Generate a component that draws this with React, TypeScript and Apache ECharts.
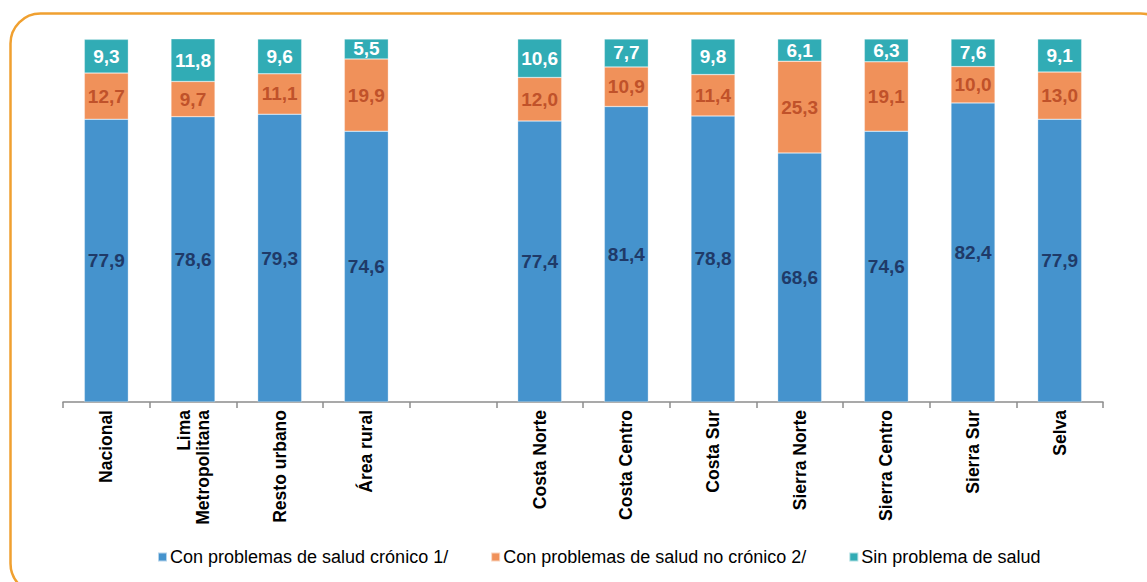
import React, { useEffect, useRef } from "react";
import * as echarts from "echarts";

const categories = [
  "Nacional",
  "Lima\nMetropolitana",
  "Resto urbano",
  "Área rural",
  "",
  "Costa Norte",
  "Costa Centro",
  "Costa Sur",
  "Sierra Norte",
  "Sierra Centro",
  "Sierra Sur",
  "Selva",
];
const cronico = [77.9, 78.6, 79.3, 74.6, null, 77.4, 81.4, 78.8, 68.6, 74.6, 82.4, 77.9];
const noCronico = [12.7, 9.7, 11.1, 19.9, null, 12.0, 10.9, 11.4, 25.3, 19.1, 10.0, 13.0];
const sinProblema = [9.3, 11.8, 9.6, 5.5, null, 10.6, 7.7, 9.8, 6.1, 6.3, 7.6, 9.1];
const seriesNames = [
  "Con problemas de salud crónico 1/",
  "Con problemas de salud no crónico 2/",
  "Sin problema de salud",
];

const FONT = "'Liberation Sans Narrow', 'Arial Narrow', 'Liberation Sans', Arial, sans-serif";

export default function App() {
  const ref = useRef<HTMLDivElement>(null);
  useEffect(() => {
    document.body.style.margin = "0";
    const chart = echarts.init(ref.current!, null, { renderer: "svg" });
    const fmt = (p: any) => (p.value == null ? "" : Number(p.value).toFixed(1).replace(".", ","));
    const mk = (name: string, data: any[], color: string, labelColor: string) => ({
      name,
      type: "bar",
      stack: "total",
      data,
      barWidth: 44,
      itemStyle: { color, borderColor: "rgba(255,255,255,0.6)", borderWidth: 0.5 },
      label: {
        show: true,
        position: "inside",
        formatter: fmt,
        color: labelColor,
        fontFamily: FONT,
        fontWeight: "bold",
        fontSize: 19,
      },
    });
    chart.setOption({
      animation: false,
      textStyle: { fontFamily: FONT },
      grid: { left: 63, right: 44, top: 39, bottom: 180 },
      xAxis: {
        type: "category",
        data: categories,
        axisLine: { lineStyle: { color: "#8c8c8c", width: 1.5 } },
        axisTick: { show: true, length: 6, lineStyle: { color: "#8c8c8c", width: 1.5 } },
        axisLabel: {
          rotate: 90,
          interval: 0,
          margin: 8,
          color: "#000",
          fontFamily: FONT,
          fontWeight: "bold",
          fontSize: 17.5,
          lineHeight: 19,
        },
      },
      yAxis: { type: "value", min: 0, max: 100, show: false, splitLine: { show: false } },
      legend: {
        left: 152,
        top: 543,
        itemWidth: 9,
        itemHeight: 9,
        itemGap: 42,
        icon: "rect",
        textStyle: { fontFamily: FONT, fontSize: 18, color: "#000", padding: [0, 0, 0, -2] },
        data: seriesNames,
      },
      series: [
        mk(seriesNames[0], cronico, "#4593CD", "#1F3A68"),
        mk(seriesNames[1], noCronico, "#F0915A", "#C0522A"),
        mk(seriesNames[2], sinProblema, "#31ACB5", "#FFFFFF"),
      ],
      graphic: [
        {
          type: "rect",
          left: 8,
          top: 11,
          shape: { width: 1160, height: 580, r: 30 },
          style: { fill: "none", stroke: "#F0A030", lineWidth: 2.5 },
          silent: true,
        },
      ],
    });
    return () => chart.dispose();
  }, []);
  return <div ref={ref} style={{ width: 1147, height: 582 }} />;
}
